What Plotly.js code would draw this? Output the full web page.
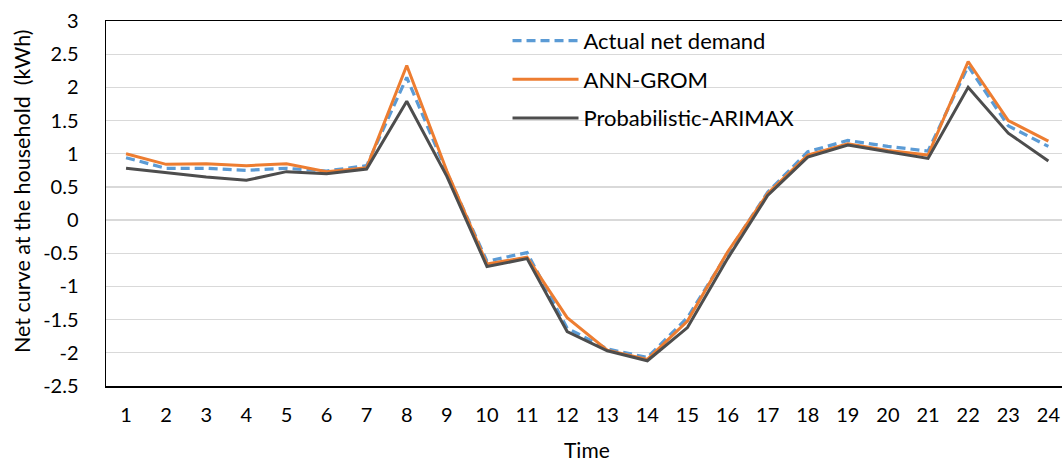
<!DOCTYPE html>
<html>
<head>
<meta charset="utf-8">
<script src="https://cdn.plot.ly/plotly-3.0.1.min.js"></script>
<style>html,body{margin:0;padding:0;background:#fff;}#chart{width:1062px;height:462px;}</style>
</head>
<body>
<div id="chart"></div>
<script>
const hours = [1,2,3,4,5,6,7,8,9,10,11,12,13,14,15,16,17,18,19,20,21,22,23,24];
const actualNetDemand = [0.94,0.78,0.78,0.75,0.78,0.74,0.82,2.15,0.72,-0.62,-0.49,-1.63,-1.94,-2.07,-1.47,-0.50,0.42,1.03,1.20,1.11,1.04,2.32,1.42,1.11];
const annGrom = [1.00,0.84,0.85,0.82,0.85,0.73,0.79,2.33,0.74,-0.66,-0.56,-1.47,-1.96,-2.10,-1.52,-0.48,0.40,0.98,1.15,1.05,0.98,2.39,1.50,1.19];
const probArimax = [0.78,0.71,0.65,0.60,0.73,0.70,0.77,1.79,0.66,-0.70,-0.58,-1.68,-1.97,-2.12,-1.62,-0.58,0.37,0.95,1.13,1.03,0.93,2.00,1.31,0.89];
const yTicks = [3,2.5,2,1.5,1,0.5,0,-0.5,-1,-1.5,-2,-2.5];
const seriesNames = ["Actual net demand","ANN-GROM","Probabilistic-ARIMAX"];

const FONT = "Lato, 'Open Sans', sans-serif";

const traces = [
  {x: hours, y: actualNetDemand, name: seriesNames[0], type: "scatter", mode: "lines",
   line: {color: "#5B9BD5", width: 3.2, dash: "9px,5px"}, legendgroup: "a"},
  {x: hours, y: annGrom, name: seriesNames[1], type: "scatter", mode: "lines",
   line: {color: "#ED7D31", width: 3}, legendgroup: "b"},
  {x: hours, y: probArimax, name: seriesNames[2], type: "scatter", mode: "lines",
   line: {color: "#4D4D4D", width: 3}, legendgroup: "c"}
];

const layout = {
  width: 1062, height: 462,
  margin: {l: 106, r: 0, t: 21, b: 76, pad: 0},
  paper_bgcolor: "#fff", plot_bgcolor: "#fff",
  font: {family: FONT, size: 19, color: "#000"},
  showlegend: true,
  legend: {x: 0.42, y: 1.003, xanchor: "left", yanchor: "top",
    bgcolor: "rgba(0,0,0,0)", font: {family: FONT, size: 22, color: "#000"},
    itemwidth: 66, tracegroupgap: 7, traceorder: "grouped"},
  xaxis: {
    range: [0.5, 24.34], tickmode: "array", tickvals: hours, ticktext: hours.map(String),
    showgrid: false, zeroline: false, showline: true, linecolor: "#000", linewidth: 1.5,
    mirror: true, ticks: "", ticklabelstandoff: 10, tickfont: {family: FONT, size: 20},
    fixedrange: true
  },
  yaxis: {
    range: [-2.5, 3], tickmode: "array", tickvals: yTicks, ticktext: yTicks.map(String),
    showgrid: true, gridcolor: "#D9D9D9", gridwidth: 1.3, zeroline: false,
    showline: true, linecolor: "#000", linewidth: 1.5, mirror: false, ticks: "",
    ticklabelstandoff: 22, tickfont: {family: FONT, size: 20}, fixedrange: true
  },
  annotations: [
    {text: "Time", xref: "paper", yref: "paper", x: (587-106)/956, y: -(449-386)/365,
     xanchor: "center", yanchor: "middle", showarrow: false, font: {family: FONT, size: 21}},
    {text: "Net curve at the household  (kWh)", xref: "paper", yref: "paper",
     x: -(106-22)/956, y: (386-191)/365, xanchor: "center", yanchor: "middle",
     textangle: -90, showarrow: false, font: {family: FONT, size: 21.5}}
  ]
};

Plotly.newPlot("chart", traces, layout, {displayModeBar: false, staticPlot: true});
</script>
</body>
</html>
